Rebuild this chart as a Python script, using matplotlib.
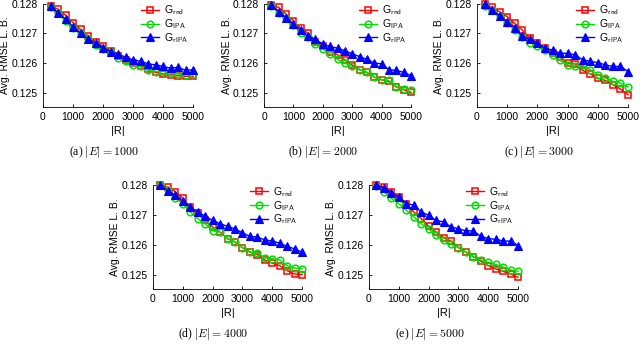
import matplotlib
matplotlib.use("Agg")
import matplotlib.pyplot as plt

plt.rcParams['font.family'] = ['Liberation Sans', 'DejaVu Sans']
plt.rcParams['mathtext.fontset'] = 'cm'

R = [250, 500, 750, 1000, 1250, 1500, 1750, 2000, 2250, 2500,
     2750, 3000, 3250, 3500, 3750, 4000, 4250, 4500, 4750, 5000]

captions = ["(a) $|E|=1000$", "(b) $|E|=2000$", "(c) $|E|=3000$",
            "(d) $|E|=4000$", "(e) $|E|=5000$"]
labels = [r"G$_{\mathsf{rnd}}$", r"G$_{\mathsf{IPA}}$", r"G$_{\mathsf{rIPA}}$"]

# |E| = 1000
a_rnd = [0.12791, 0.12781, 0.12761, 0.12736, 0.12713, 0.12691, 0.12672, 0.12658, 0.12642, 0.12624,
         0.12611, 0.12600, 0.12589, 0.12580, 0.12569, 0.12564, 0.12561, 0.12558, 0.12556, 0.12556]
a_ipa = [0.12789, 0.12767, 0.12742, 0.12717, 0.12700, 0.12681, 0.12661, 0.12647, 0.12639, 0.12617,
         0.12606, 0.12594, 0.12589, 0.12576, 0.12572, 0.12572, 0.12567, 0.12564, 0.12561, 0.12564]
a_ripa = [0.12791, 0.12769, 0.12747, 0.12722, 0.12700, 0.12681, 0.12667, 0.12652, 0.12639, 0.12631,
          0.12620, 0.12611, 0.12606, 0.12598, 0.12594, 0.12589, 0.12583, 0.12586, 0.12576, 0.12578]
# |E| = 2000
b_rnd = [0.12794, 0.12787, 0.12764, 0.12742, 0.12717, 0.12700, 0.12672, 0.12656, 0.12639, 0.12628,
         0.12611, 0.12594, 0.12578, 0.12569, 0.12553, 0.12544, 0.12539, 0.12520, 0.12511, 0.12502]
b_ipa = [0.12791, 0.12769, 0.12750, 0.12728, 0.12700, 0.12689, 0.12664, 0.12647, 0.12631, 0.12613,
         0.12600, 0.12589, 0.12578, 0.12569, 0.12553, 0.12544, 0.12542, 0.12520, 0.12513, 0.12511]
b_ripa = [0.12794, 0.12772, 0.12753, 0.12731, 0.12711, 0.12691, 0.12680, 0.12664, 0.12656, 0.12650,
          0.12642, 0.12631, 0.12622, 0.12613, 0.12600, 0.12598, 0.12578, 0.12576, 0.12569, 0.12558]
# |E| = 3000
c_rnd = [0.12798, 0.12787, 0.12772, 0.12756, 0.12733, 0.12711, 0.12683, 0.12667, 0.12650, 0.12633,
         0.12620, 0.12600, 0.12598, 0.12576, 0.12564, 0.12550, 0.12542, 0.12528, 0.12513, 0.12494]
c_ipa = [0.12791, 0.12778, 0.12758, 0.12733, 0.12711, 0.12689, 0.12669, 0.12656, 0.12644, 0.12628,
         0.12609, 0.12594, 0.12591, 0.12593, 0.12578, 0.12561, 0.12550, 0.12539, 0.12533, 0.12520]
c_ripa = [0.12798, 0.12778, 0.12758, 0.12739, 0.12717, 0.12691, 0.12680, 0.12667, 0.12650, 0.12644,
          0.12633, 0.12633, 0.12628, 0.12611, 0.12606, 0.12602, 0.12594, 0.12589, 0.12589, 0.12572]
# |E| = 4000
d_rnd = [0.12800, 0.12792, 0.12778, 0.12755, 0.12727, 0.12707, 0.12682, 0.12660, 0.12643, 0.12621,
         0.12610, 0.12591, 0.12576, 0.12568, 0.12550, 0.12539, 0.12531, 0.12514, 0.12503, 0.12501]
d_ipa = [0.12800, 0.12783, 0.12755, 0.12738, 0.12710, 0.12688, 0.12671, 0.12647, 0.12643, 0.12621,
         0.12610, 0.12591, 0.12576, 0.12573, 0.12557, 0.12554, 0.12550, 0.12531, 0.12523, 0.12520]
d_ripa = [0.12800, 0.12781, 0.12766, 0.12747, 0.12727, 0.12710, 0.12696, 0.12682, 0.12671, 0.12662,
          0.12654, 0.12640, 0.12629, 0.12626, 0.12617, 0.12613, 0.12606, 0.12595, 0.12587, 0.12576]
# |E| = 5000
e_rnd = [0.12800, 0.12794, 0.12778, 0.12761, 0.12738, 0.12710, 0.12688, 0.12662, 0.12643, 0.12624,
         0.12613, 0.12591, 0.12576, 0.12561, 0.12546, 0.12531, 0.12520, 0.12512, 0.12503, 0.12492]
e_ipa = [0.12797, 0.12778, 0.12755, 0.12738, 0.12716, 0.12694, 0.12671, 0.12654, 0.12632, 0.12615,
         0.12602, 0.12591, 0.12576, 0.12561, 0.12550, 0.12542, 0.12535, 0.12526, 0.12517, 0.12512]
e_ripa = [0.12800, 0.12789, 0.12774, 0.12759, 0.12738, 0.12733, 0.12710, 0.12699, 0.12682, 0.12677,
          0.12660, 0.12654, 0.12647, 0.12647, 0.12629, 0.12621, 0.12619, 0.12613, 0.12613, 0.12598]

panels = [(a_rnd, a_ipa, a_ripa), (b_rnd, b_ipa, b_ripa), (c_rnd, c_ipa, c_ripa),
          (d_rnd, d_ipa, d_ripa), (e_rnd, e_ipa, e_ripa)]

W, H = 640, 349
fig = plt.figure(figsize=(W / 100, H / 100), dpi=100)

# (left px, top px, width px, bottom px)
boxes = [(43, 3.5, 150, 107), (264, 3.5, 147, 107), (477, 3.5, 151, 107),
         (153, 185, 149, 289), (369, 185, 149, 289)]

styles = [dict(color='#ff0000', marker='s', mfc='none', mec='#ff0000', ms=4.5, mew=1.1),
          dict(color='#00e000', marker='o', mfc='none', mec='#00e000', ms=4.8, mew=1.1),
          dict(color='#0000ff', marker='^', mfc='#0000ff', mec='#0000ff', ms=5.5, mew=0.8)]

for (l, t, w, b), data, cap in zip(boxes, panels, captions):
    ax = fig.add_axes([l / W, 1 - b / H, w / W, (b - t) / H])
    handles = []
    for vals, st, lab in zip(data, styles, labels):
        ln, = ax.plot(R, vals, lw=1.0, clip_on=False, label=lab, **st)
        handles.append(ln)
    ax.set_xlim(0, 5000)
    ax.set_ylim(0.12453, 0.128)
    ax.set_xticks([0, 1000, 2000, 3000, 4000, 5000])
    ax.set_yticks([0.125, 0.126, 0.127, 0.128])
    ax.set_yticklabels(["0.125", "0.126", "0.127", "0.128"])
    ax.tick_params(direction='in', length=2.5, width=0.6, labelsize=7.5, pad=3.5)
    for s in ['top', 'right']:
        ax.spines[s].set_visible(False)
    for s in ['left', 'bottom']:
        ax.spines[s].set_linewidth(0.6)
    ax.set_xlabel("|R|", fontsize=8, labelpad=3)
    ax.set_ylabel("Avg. RMSE L. B.", fontsize=7.5, labelpad=1)
    ax.legend(handles=handles, loc='upper right', bbox_to_anchor=(1.0, 1.04),
              frameon=False, fontsize=7.5, handlelength=1.8, handletextpad=0.5,
              labelspacing=0.0, borderaxespad=0.2, borderpad=0.2)
    cx = (l + w / 2 - 14) / W
    fig.text(cx, 1 - (b + 45) / H, cap, ha='center', va='center',
             fontsize=8.5, family='Liberation Serif')

fig.savefig("out.png", dpi=100)
